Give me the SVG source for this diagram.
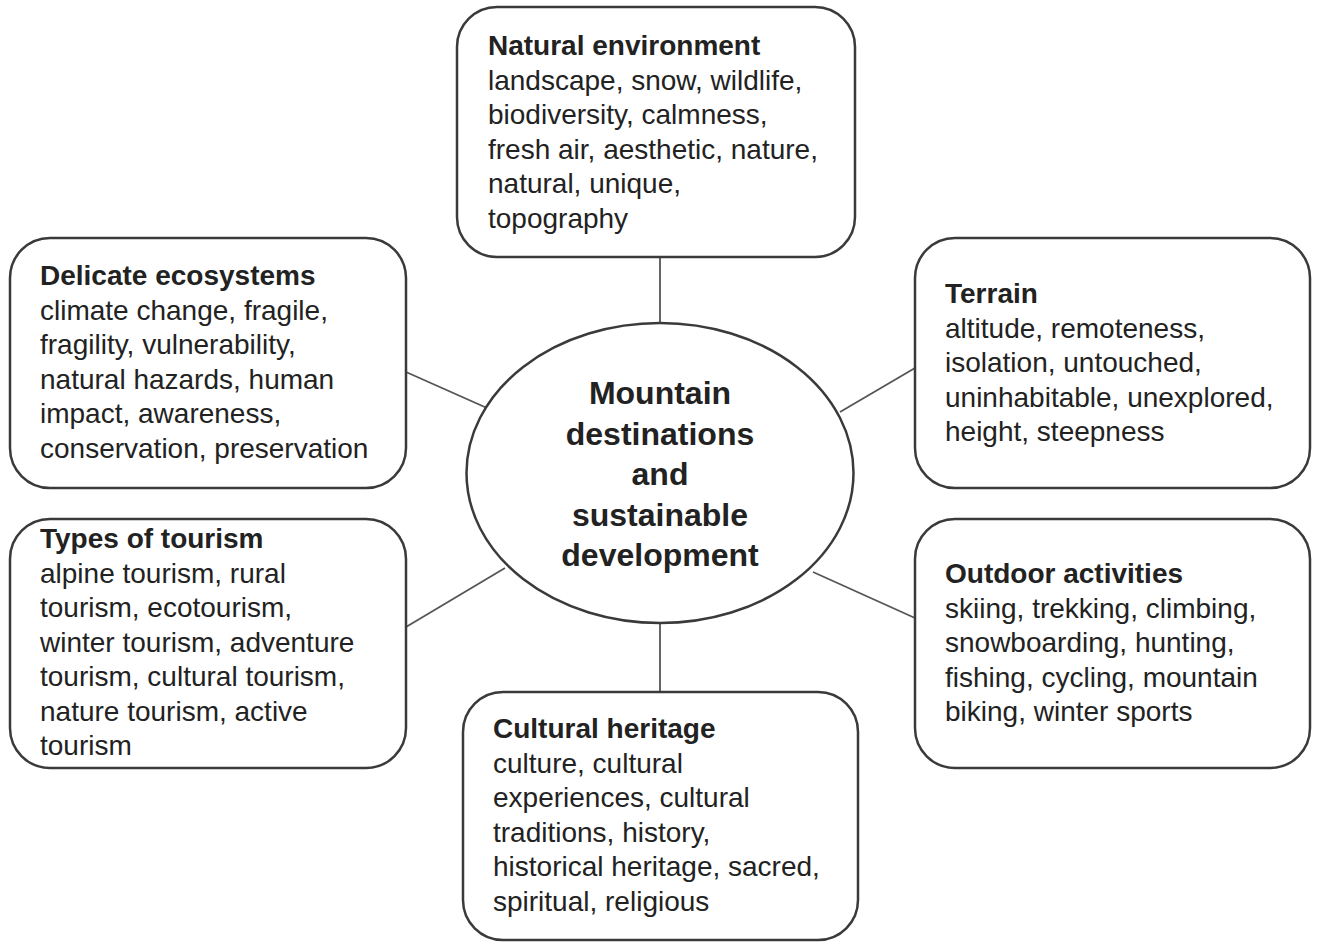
<svg xmlns="http://www.w3.org/2000/svg" width="1323" height="948" viewBox="0 0 1323 948">
<style>
.box{fill:#fff;stroke:#3a3a3a;stroke-width:2.5}
.conn{stroke:#555;stroke-width:1.8;fill:none}
text{font-family:"Liberation Sans",Arial,sans-serif;font-size:28px;fill:#222}
.t{font-weight:bold}
.c{font-weight:bold;font-size:32px;text-anchor:middle}
</style>
<rect width="1323" height="948" fill="#fff"/>
<g id="connectors">
<line class="conn" x1="660" y1="257" x2="660" y2="323"/>
<line class="conn" x1="660" y1="623" x2="660" y2="692"/>
<line class="conn" x1="406" y1="372" x2="487" y2="408"/>
<line class="conn" x1="840" y1="412" x2="915" y2="368"/>
<line class="conn" x1="406" y1="627" x2="505" y2="568"/>
<line class="conn" x1="813" y1="572" x2="915" y2="618"/>
</g>
<g id="center">
<ellipse cx="660" cy="473" rx="193.5" ry="150" class="box"/>
<text class="c" x="660" y="404">Mountain</text>
<text class="c" x="660" y="444.5">destinations</text>
<text class="c" x="660" y="485">and</text>
<text class="c" x="660" y="525.5">sustainable</text>
<text class="c" x="660" y="566">development</text>
</g>
<g id="natural-environment">
<rect class="box" x="457" y="7" width="398" height="250" rx="40"/>
<text class="t" x="488" y="55">Natural environment</text>
<text x="488" y="89.5">landscape, snow, wildlife,</text>
<text x="488" y="124">biodiversity, calmness,</text>
<text x="488" y="158.5">fresh air, aesthetic, nature,</text>
<text x="488" y="193">natural, unique,</text>
<text x="488" y="227.5">topography</text>
</g>
<g id="delicate-ecosystems">
<rect class="box" x="10" y="238" width="396" height="250" rx="40"/>
<text class="t" x="40" y="285">Delicate ecosystems</text>
<text x="40" y="319.5">climate change, fragile,</text>
<text x="40" y="354">fragility, vulnerability,</text>
<text x="40" y="388.5">natural hazards, human</text>
<text x="40" y="423">impact, awareness,</text>
<text x="40" y="457.5">conservation, preservation</text>
</g>
<g id="terrain">
<rect class="box" x="915" y="238" width="395" height="250" rx="40"/>
<text class="t" x="945" y="303">Terrain</text>
<text x="945" y="337.5">altitude, remoteness,</text>
<text x="945" y="372">isolation, untouched,</text>
<text x="945" y="406.5">uninhabitable, unexplored,</text>
<text x="945" y="441">height, steepness</text>
</g>
<g id="types-of-tourism">
<rect class="box" x="10" y="519" width="396" height="249" rx="40"/>
<text class="t" x="40" y="548">Types of tourism</text>
<text x="40" y="582.5">alpine tourism, rural</text>
<text x="40" y="617">tourism, ecotourism,</text>
<text x="40" y="651.5">winter tourism, adventure</text>
<text x="40" y="686">tourism, cultural tourism,</text>
<text x="40" y="720.5">nature tourism, active</text>
<text x="40" y="755">tourism</text>
</g>
<g id="outdoor-activities">
<rect class="box" x="915" y="519" width="395" height="249" rx="40"/>
<text class="t" x="945" y="583">Outdoor activities</text>
<text x="945" y="617.5">skiing, trekking, climbing,</text>
<text x="945" y="652">snowboarding, hunting,</text>
<text x="945" y="686.5">fishing, cycling, mountain</text>
<text x="945" y="721">biking, winter sports</text>
</g>
<g id="cultural-heritage">
<rect class="box" x="463" y="692" width="395" height="248" rx="40"/>
<text class="t" x="493" y="738">Cultural heritage</text>
<text x="493" y="772.5">culture, cultural</text>
<text x="493" y="807">experiences, cultural</text>
<text x="493" y="841.5">traditions, history,</text>
<text x="493" y="876">historical heritage, sacred,</text>
<text x="493" y="910.5">spiritual, religious</text>
</g>
</svg>
